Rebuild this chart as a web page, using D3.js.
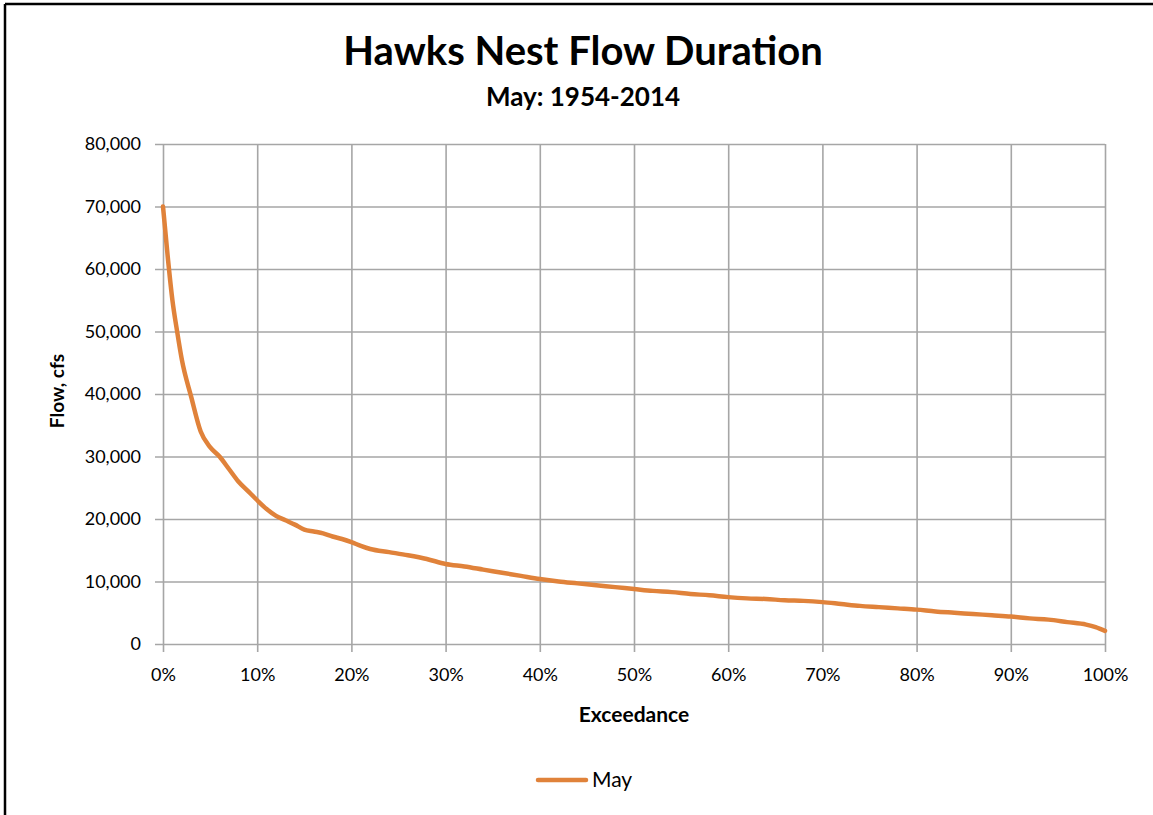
<!DOCTYPE html>
<html>
<head>
<meta charset="utf-8">
<script src="https://cdn.jsdelivr.net/npm/d3@7"></script>
<style>
  html, body { margin: 0; padding: 0; background: #fff; }
  svg { display: block; }
  text { font-family: "Lato", "Open Sans", sans-serif; fill: #000; }
</style>
</head>
<body>
<svg id="chart" width="1153" height="815"></svg>
<script>
// Flow duration curve for May, 1954-2014
const titleText = "Hawks Nest Flow Duration";
const subtitleText = "May: 1954-2014";
const xAxisTitle = "Exceedance";
const yAxisTitle = "Flow, cfs";
const seriesName = "May";

// Exceedance probability (fraction) and flow (cfs)
const exceedance = [0, 0.005, 0.01, 0.015, 0.02, 0.03, 0.04, 0.05, 0.06, 0.07, 0.08, 0.09,
  0.10, 0.11, 0.12, 0.13, 0.14, 0.15, 0.16, 0.17, 0.18, 0.19, 0.20, 0.21, 0.22, 0.24, 0.26,
  0.28, 0.30, 0.32, 0.34, 0.36, 0.38, 0.40, 0.42, 0.44, 0.46, 0.48, 0.50, 0.52, 0.54, 0.56,
  0.58, 0.60, 0.62, 0.64, 0.66, 0.68, 0.70, 0.72, 0.74, 0.76, 0.78, 0.80, 0.82, 0.84, 0.86,
  0.88, 0.90, 0.92, 0.94, 0.96, 0.98, 0.99, 1.00];
const flow = [70000, 62000, 55000, 50000, 45500, 39500, 34000, 31500, 30000, 28000, 26000, 24500,
  23000, 21600, 20500, 19800, 19100, 18300, 18000, 17700, 17200, 16800, 16300, 15700, 15200, 14700, 14200,
  13600, 12800, 12400, 11900, 11400, 10900, 10400, 10000, 9700, 9400, 9100, 8800, 8500, 8300, 8000,
  7800, 7500, 7300, 7200, 7000, 6900, 6700, 6400, 6100, 5900, 5700, 5500, 5200, 5000, 4800,
  4600, 4400, 4100, 3900, 3500, 3100, 2700, 2100];

const xTicks = [0, 0.1, 0.2, 0.3, 0.4, 0.5, 0.6, 0.7, 0.8, 0.9, 1.0];
const yTicks = [0, 10000, 20000, 30000, 40000, 50000, 60000, 70000, 80000];

const svg = d3.select("#chart");
const W = 1153, H = 815;
const plot = { left: 163, right: 1105, top: 144, bottom: 644 };

const lineColor = "#E0823A";
const gridColor = "#A6A6A6";
const fontStack = "Lato, 'Open Sans', sans-serif";

// Outer frame (left and top edges)
svg.append("line").attr("x1", 5).attr("y1", 4).attr("x2", W).attr("y2", 4)
  .attr("stroke", "#000").attr("stroke-width", 2.5);
svg.append("line").attr("x1", 5).attr("y1", 4).attr("x2", 5).attr("y2", H)
  .attr("stroke", "#000").attr("stroke-width", 2.5);

const x = d3.scaleLinear().domain([0, 1]).range([plot.left, plot.right]);
const y = d3.scaleLinear().domain([0, 80000]).range([plot.bottom, plot.top]);

// Horizontal gridlines + left axis ticks
const yAxis = d3.axisLeft(y).tickValues(yTicks).tickFormat(d3.format(","))
  .tickSize(-(plot.right - plot.left)).tickPadding(22);
const gy = svg.append("g").attr("transform", `translate(${plot.left},0)`).call(yAxis);
gy.select(".domain").remove();
gy.selectAll(".tick line").attr("stroke", gridColor).attr("stroke-width", 1.6).attr("x1", -8);
gy.selectAll(".tick text").attr("font-size", 18).attr("fill", "#000")
  .style("font-family", fontStack);

// Vertical gridlines + bottom axis ticks
const xAxis = d3.axisBottom(x).tickValues(xTicks).tickFormat(d3.format(".0%"))
  .tickSize(-(plot.bottom - plot.top)).tickPadding(24);
const gx = svg.append("g").attr("transform", `translate(0,${plot.bottom})`).call(xAxis);
gx.select(".domain").remove();
gx.selectAll(".tick line").attr("stroke", gridColor).attr("stroke-width", 1.6).attr("y1", 8);
gx.selectAll(".tick text").attr("font-size", 18).attr("fill", "#000")
  .style("font-family", fontStack);

// Flow duration curve
const pts = exceedance.map((e, i) => [e, flow[i]]);
svg.append("path")
  .datum(pts)
  .attr("fill", "none")
  .attr("stroke", lineColor)
  .attr("stroke-width", 4.5)
  .attr("stroke-linejoin", "round")
  .attr("stroke-linecap", "round")
  .attr("d", d3.line().x(d => x(d[0])).y(d => y(d[1])).curve(d3.curveMonotoneX));

// Titles
svg.append("text").attr("x", 583).attr("y", 65).attr("text-anchor", "middle")
  .attr("font-size", 40).attr("font-weight", "bold").text(titleText);
svg.append("text").attr("x", 583).attr("y", 106).attr("text-anchor", "middle")
  .attr("font-size", 26).attr("font-weight", "bold").text(subtitleText);

// Axis titles
svg.append("text").attr("x", x(0.5)).attr("y", 722).attr("text-anchor", "middle")
  .attr("font-size", 21).attr("font-weight", "bold").text(xAxisTitle);
svg.append("text").attr("transform", `translate(64,${(plot.top + plot.bottom) / 2 - 3}) rotate(-90)`)
  .attr("text-anchor", "middle").attr("font-size", 19).attr("font-weight", "bold").text(yAxisTitle);

// Legend
const lg = svg.append("g").attr("transform", "translate(538,780)");
lg.append("line").attr("x1", 0).attr("x2", 48).attr("y1", 0).attr("y2", 0)
  .attr("stroke", lineColor).attr("stroke-width", 4.5).attr("stroke-linecap", "round");
lg.append("text").attr("x", 54).attr("y", 7).attr("font-size", 21).text(seriesName);
</script>
</body>
</html>
